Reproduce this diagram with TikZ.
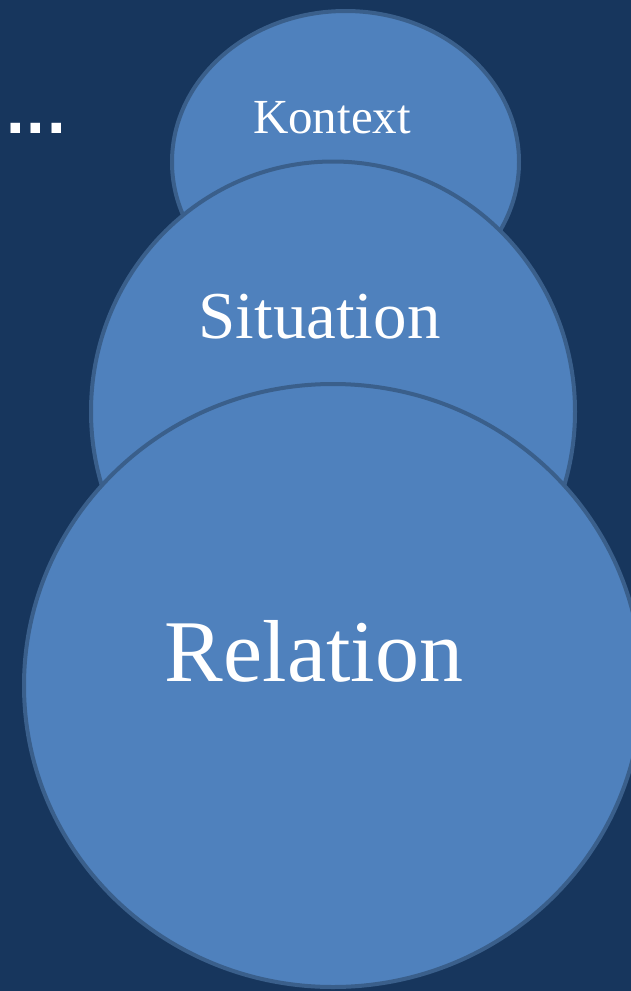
\documentclass[tikz,border=0pt]{standalone}
\usepackage{fontspec}
\setmainfont{Liberation Serif}
\newfontfamily\dotfont{DejaVu Sans}
\definecolor{bgnavy}{HTML}{17365D}
\definecolor{bubblefill}{HTML}{4F81BD}
\definecolor{bubbleline}{HTML}{3A5F8B}
\tikzset{bubble/.style={fill=bubblefill, draw=bubbleline, line width=4pt},
  bubbletext/.style={text=white, inner sep=0pt, anchor=base}}

\begin{document}
\begin{tikzpicture}[x=1pt,y=-1pt]
        \path[use as bounding box, fill=bgnavy] (0,0) rectangle (631,991);
        \clip (0,0) rectangle (631,991);
        \draw[bubble] (345.5,162) ellipse [x radius=173.5, y radius=151];
        \draw[bubble] (333,411.5) ellipse [x radius=242, y radius=250];
        \draw[bubble] (333,685.5) ellipse [x radius=309, y radius=301.5];
        \node[bubbletext, font=\fontsize{49}{49}\selectfont] (kontext) at (332,133) {Kontext};
        \node[bubbletext, font=\fontsize{67}{67}\selectfont] (situation) at (319.5,338) {Situation};
        \node[bubbletext, font=\fontsize{88}{88}\selectfont] (relation) at (314,681) {Relation};
        \node[bubbletext, anchor=base west, font=\dotfont\bfseries\fontsize{54}{54}\selectfont] (dots) at (5,133) {...};
      \end{tikzpicture}
\end{document}
